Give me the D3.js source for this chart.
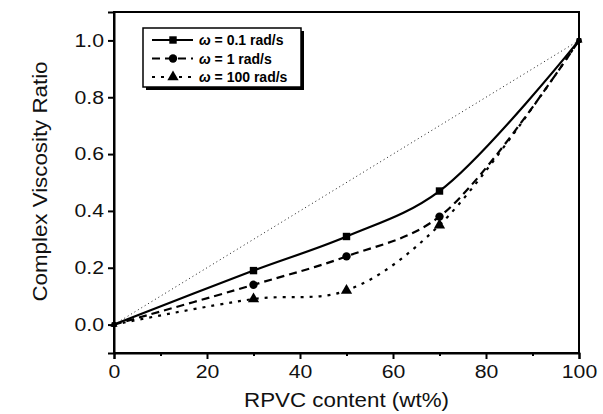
<!DOCTYPE html>
<html>
<head>
<meta charset="utf-8">
<script src="https://cdn.jsdelivr.net/npm/d3@7"></script>
<style>
  body { margin: 0; background: #fff; }
  svg { display: block; }
</style>
</head>
<body>
<svg></svg>
<script>
const content = [0, 30, 50, 70, 100];
const w01 = [0, 0.19, 0.31, 0.47, 1.0];
const w1 = [0, 0.14, 0.24, 0.38, 1.0];
const w100 = [0, 0.09, 0.12, 0.35, 1.0];
const xTicks = [0, 20, 40, 60, 80, 100];
const xMinor = [10, 30, 50, 70, 90];
const yTicks = [0, 0.2, 0.4, 0.6, 0.8, 1.0];
const seriesNames = ["0.1 rad/s", "1 rad/s", "100 rad/s"];

const width = 603, height = 414;
const margin = { top: 12, right: 24, bottom: 61, left: 114 };

const svg = d3.select("svg")
    .attr("width", width)
    .attr("height", height)
    .style("font-family", "'Liberation Sans', Arial, sans-serif");

const x = d3.scaleLinear().domain([0, 100]).range([margin.left, width - margin.right]);
const y = d3.scaleLinear().domain([-0.1, 1.1]).range([height - margin.bottom, margin.top]);

const series = [
    { name: seriesNames[0], values: w01, dash: null, marker: d3.symbolSquare, size: 55 },
    { name: seriesNames[1], values: w1, dash: "8,5", marker: d3.symbolCircle, size: 55 },
    { name: seriesNames[2], values: w100, dash: "3,6", marker: d3.symbolTriangle, size: 55 }
];

// reference diagonal
svg.append("line")
    .attr("x1", x(0)).attr("y1", y(0))
    .attr("x2", x(100)).attr("y2", y(1))
    .attr("stroke", "#000")
    .attr("stroke-width", 0.9)
    .attr("stroke-dasharray", "1,3");

const line = d3.line()
    .x((d, i) => x(content[i]))
    .y(d => y(d))
    .curve(d3.curveCatmullRom.alpha(0.5));

svg.selectAll(".series")
    .data(series)
    .join("path")
    .attr("d", d => line(d.values))
    .attr("fill", "none")
    .attr("stroke", "#000")
    .attr("stroke-width", 2.2)
    .attr("stroke-dasharray", d => d.dash);

series.forEach(s => {
    svg.selectAll(null)
        .data(s.values)
        .join("path")
        .attr("transform", (d, i) => `translate(${x(content[i])},${y(d)})`)
        .attr("d", (d, i) => d3.symbol(s.marker, (i === 0 || i === 4) ? s.size * 0.4 : s.size)())
        .attr("fill", "#000");
});

// frame
svg.append("rect")
    .attr("x", x(0)).attr("y", y(1.1))
    .attr("width", x(100) - x(0))
    .attr("height", y(-0.1) - y(1.1))
    .attr("fill", "none")
    .attr("stroke", "#000")
    .attr("stroke-width", 2);

svg.append("g")
    .attr("transform", `translate(0,${y(-0.1)})`)
    .call(d3.axisBottom(x).tickValues(xTicks).tickSize(6).tickPadding(6).tickFormat(d3.format("d")));
svg.append("g")
    .attr("transform", `translate(0,${y(-0.1)})`)
    .call(d3.axisBottom(x).tickValues(xMinor).tickSize(3).tickFormat(""))
    .call(g => g.select(".domain").remove());

svg.append("g")
    .attr("transform", `translate(${x(0)},0)`)
    .call(d3.axisLeft(y).tickValues(yTicks).tickSize(6).tickPadding(4).tickFormat(d3.format(".1f")));

svg.selectAll(".tick line").attr("stroke", "#000").attr("stroke-width", 2);
svg.selectAll(".domain").attr("stroke", "#000").attr("stroke-width", 2);
svg.selectAll(".tick text")
    .attr("font-size", 18)
    .attr("fill", "#111")
    .style("font-family", "'Liberation Sans', Arial, sans-serif")
    .each(function() {
        const len = this.getComputedTextLength();
        d3.select(this).attr("textLength", len * 1.18).attr("lengthAdjust", "spacingAndGlyphs");
    });

svg.append("text")
    .attr("x", (x(0) + x(100)) / 2)
    .attr("y", 407)
    .attr("text-anchor", "middle")
    .attr("font-size", 21)
    .attr("fill", "#111")
    .attr("textLength", 205)
    .attr("lengthAdjust", "spacingAndGlyphs")
    .text("RPVC content (wt%)");

svg.append("text")
    .attr("transform", `translate(47,${(y(-0.1) + y(1.1)) / 2 - 1}) rotate(-90)`)
    .attr("text-anchor", "middle")
    .attr("font-size", 21)
    .attr("fill", "#111")
    .attr("textLength", 240)
    .attr("lengthAdjust", "spacingAndGlyphs")
    .text("Complex Viscosity Ratio");

// legend
const lg = svg.append("g").attr("transform", "translate(143,28)");
lg.append("rect")
    .attr("x", 3).attr("y", 3).attr("width", 158).attr("height", 59)
    .attr("fill", "#000");
lg.append("rect")
    .attr("x", 0).attr("y", 0).attr("width", 158).attr("height", 59)
    .attr("fill", "#fff").attr("stroke", "#000").attr("stroke-width", 1.5);

series.forEach((s, i) => {
    const cy = 12 + i * 18.5;
    lg.append("line")
        .attr("x1", 9).attr("x2", 50)
        .attr("y1", cy).attr("y2", cy)
        .attr("stroke", "#000").attr("stroke-width", 2.2)
        .attr("stroke-dasharray", s.dash);
    lg.append("path")
        .attr("transform", `translate(30,${cy})`)
        .attr("d", d3.symbol(s.marker, s.size)())
        .attr("fill", "#000");
    const t = lg.append("text")
        .attr("x", 56).attr("y", cy + 5)
        .attr("font-size", 14)
        .attr("font-weight", "bold")
        .attr("fill", "#000");
    t.append("tspan").attr("font-style", "italic").text("ω");
    t.append("tspan").text(" = " + s.name);
});
</script>
</body>
</html>
